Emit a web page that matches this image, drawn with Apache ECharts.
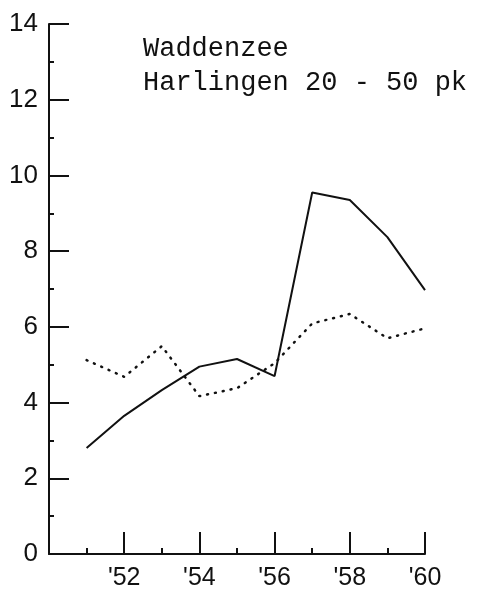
<!DOCTYPE html>
<html>
<head>
<meta charset="utf-8">
<script src="https://cdn.jsdelivr.net/npm/echarts@6/dist/echarts.min.js"></script>
<style>
  html, body { margin: 0; padding: 0; background: #fff; }
  #chart { width: 482px; height: 591px; }
</style>
</head>
<body>
<div id="chart"></div>
<script>
// years on the x axis
var years = [1951, 1952, 1953, 1954, 1955, 1956, 1957, 1958, 1959, 1960];
// solid line
var solidValues = [2.8, 3.65, 4.33, 4.95, 5.15, 4.7, 9.55, 9.35, 8.37, 6.97];
// dotted line
var dottedValues = [5.12, 4.68, 5.49, 4.17, 4.38, 5.04, 6.09, 6.34, 5.7, 5.96];
var titleLines = ["Waddenzee", "Harlingen 20 - 50 pk"];

var ink = "#111";

function pairs(vals) {
  return years.map(function (y, i) { return [y, vals[i]]; });
}

var chart = echarts.init(document.getElementById("chart"));
chart.setOption({
  animation: false,
  backgroundColor: "#fff",
  grid: { left: 49, right: 57, top: 24, bottom: 37 },
  graphic: [{
    type: "text",
    left: 143,
    top: 32,
    style: {
      text: titleLines.join("\n"),
      font: '27px "Liberation Mono"',
      lineHeight: 34,
      fill: ink
    }
  }],
  xAxis: {
    type: "value",
    min: 1950,
    max: 1960,
    interval: 2,
    splitLine: { show: false },
    axisLine: { lineStyle: { color: ink, width: 2 } },
    axisTick: { inside: true, length: 22, lineStyle: { color: ink, width: 2 } },
    minorTick: { show: true, splitNumber: 2, length: 6, lineStyle: { color: ink, width: 2 } },
    axisLabel: {
      margin: 12,
      fontSize: 25,
      color: ink,
      fontFamily: "Liberation Sans",
      formatter: function (v) {
        if (v === 1950) return "";
        return "'" + String(v).slice(2);
      }
    }
  },
  yAxis: {
    type: "value",
    min: 0,
    max: 14,
    interval: 2,
    splitLine: { show: false },
    axisLine: { lineStyle: { color: ink, width: 2 } },
    axisTick: { inside: true, length: 20, lineStyle: { color: ink, width: 2 } },
    minorTick: { show: true, splitNumber: 2, length: 5, lineStyle: { color: ink, width: 2 } },
    axisLabel: {
      margin: 11,
      fontSize: 26,
      color: ink,
      fontFamily: "Liberation Sans"
    }
  },
  series: [
    {
      type: "line",
      data: pairs(solidValues),
      symbol: "none",
      lineStyle: { color: ink, width: 2 }
    },
    {
      type: "line",
      data: pairs(dottedValues),
      symbol: "none",
      lineStyle: { color: ink, width: 2.5, type: [1, 7], cap: "round" }
    }
  ]
});
</script>
</body>
</html>
